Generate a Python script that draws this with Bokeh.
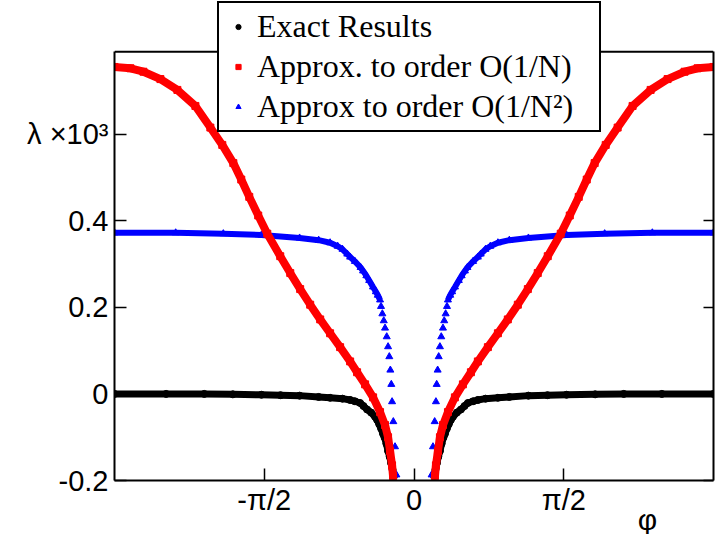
import math
from bokeh.plotting import figure
from bokeh.models import (FixedTicker, LinearAxis, Legend, LegendItem, Range1d, Span)
from bokeh.embed import file_html
from bokeh.resources import INLINE

PI = math.pi

# Values for phi > 0; the curves are mirror-symmetric in phi.
phi_exact = [0.21, 0.225, 0.24, 0.255, 0.272, 0.29, 0.31, 0.325, 0.345, 0.365,
             0.387, 0.408, 0.45, 0.492, 0.53, 0.565, 0.62, 0.67, 0.75, 0.88,
             1.0, 1.2, 1.4, 1.6, 1.9, 2.2, 2.6, 3.1416]
lam_exact = [-0.19, -0.175, -0.16, -0.145, -0.132, -0.115, -0.1, -0.092, -0.08, -0.07,
             -0.06, -0.053, -0.043, -0.036, -0.028, -0.021, -0.017, -0.014, -0.011, -0.009,
             -0.007, -0.004, -0.003, -0.002, -0.001, 0.0, 0.0, 0.0]

phi_o1 = [0.22, 0.23, 0.251, 0.272, 0.304, 0.356, 0.429, 0.513, 0.597, 0.67,
          0.775, 0.88, 0.984, 1.089, 1.194, 1.298, 1.403, 1.539, 1.634, 1.728,
          1.812, 1.895, 2.011, 2.136, 2.293, 2.482, 2.66, 2.838, 2.974, 3.1416]
lam_o1 = [-0.19, -0.165, -0.132, -0.1, -0.072, -0.042, -0.008, 0.022, 0.05, 0.075,
          0.108, 0.14, 0.172, 0.206, 0.242, 0.279, 0.318, 0.37, 0.412, 0.455,
          0.495, 0.533, 0.575, 0.615, 0.665, 0.702, 0.727, 0.744, 0.752, 0.755]

phi_o2 = [0.185, 0.199, 0.217, 0.23, 0.238, 0.248, 0.259, 0.272, 0.286, 0.304,
          0.317, 0.332, 0.346, 0.356, 0.38, 0.40, 0.43, 0.47, 0.50, 0.534,
          0.56, 0.62, 0.67, 0.70, 0.75, 0.80, 0.88, 1.0, 1.2, 1.6,
          2.0, 2.5, 3.1416]
lam_o2 = [-0.187, -0.122, -0.064, -0.018, 0.022, 0.055, 0.086, 0.109, 0.132, 0.152,
          0.169, 0.185, 0.202, 0.217, 0.228, 0.236, 0.247, 0.262, 0.273, 0.284,
          0.292, 0.306, 0.316, 0.323, 0.334, 0.341, 0.349, 0.355, 0.36, 0.367,
          0.37, 0.372, 0.372]

x_ticks = [-PI / 2, 0, PI / 2]
x_tick_labels = ["-π/2", "0", "π/2"]
y_ticks = [-0.2, 0, 0.2, 0.4, 0.6]
y_tick_labels = ["-0.2", "0", "0.2", "0.4", "λ ×10³"]
y_top = 0.79
x_title = "φ"
x_title_pos = 2.45

legend_labels = ["Exact Results", "Approx. to order O(1/N)", "Approx to order O(1/N²)"]


def both_sides(phis, vals):
    xs = [-p for p in reversed(phis)] + list(phis)
    ys = list(reversed(vals)) + list(vals)
    return xs, ys


def line_both_sides(phis, vals):
    xs = [-p for p in reversed(phis)] + [float("nan")] + list(phis)
    ys = list(reversed(vals)) + [float("nan")] + list(vals)
    return xs, ys


# frame spans the whole height so the legend can sit above the drawn box top
p = figure(frame_width=599, frame_height=480,
           x_range=Range1d(-PI, PI), y_range=Range1d(-0.2, 0.9085),
           output_backend="svg", toolbar_location=None,
           min_border_left=114, min_border_top=0, min_border_right=4,
           min_border_bottom=54, background_fill_color="white",
           border_fill_color="white")
p.grid.visible = False
p.outline_line_color = None

# small legend markers, hidden under the curves' ends
lg_b = p.scatter([phi_exact[-1]], [lam_exact[-1]], marker="circle", size=5,
                 fill_color="black", line_color="black")
lg_r = p.scatter([phi_o1[-1]], [lam_o1[-1]], marker="square", size=5,
                 fill_color="red", line_color="red")
lg_t = p.scatter([phi_o2[-1]], [lam_o2[-1]], marker="triangle", size=6,
                 fill_color="blue", line_color="blue")

# exact (black)
xs, ys = line_both_sides(phi_exact, lam_exact)
p.line(xs, ys, line_color="black", line_width=7)
xs, ys = both_sides(phi_exact, lam_exact)
p.scatter(xs, ys, marker="circle", size=7, fill_color="black", line_color="black")

# O(1/N^2) (blue): line only through the dense part
dense = [(a, b) for a, b in zip(phi_o2, lam_o2) if a >= 0.356]
xs, ys = line_both_sides([a for a, _ in dense], [b for _, b in dense])
p.line(xs, ys, line_color="blue", line_width=6)
xs, ys = both_sides(phi_o2, lam_o2)
p.scatter(xs, ys, marker="triangle", size=7, fill_color="blue", line_color="blue")

# O(1/N) (red)
xs, ys = line_both_sides(phi_o1, lam_o1)
p.line(xs, ys, line_color="red", line_width=8)
xs, ys = both_sides(phi_o1, lam_o1)
p.scatter(xs, ys, marker="square", size=7, fill_color="red", line_color="red")

# top edge of the box
p.add_layout(Span(location=y_top, dimension="width", line_color="black", line_width=2))

# axes
xa = p.xaxis[0]
ya = p.yaxis[0]
for ax, ticks, labels in ((xa, x_ticks, x_tick_labels), (ya, y_ticks, y_tick_labels)):
    ax.ticker = FixedTicker(ticks=ticks)
    ax.major_label_overrides = {t: l for t, l in zip(ticks, labels)}
    ax.major_tick_in = 12
    ax.major_tick_out = 0
    ax.major_tick_line_width = 1.5
    ax.minor_tick_line_color = None
    ax.axis_line_color = "black"
    ax.axis_line_width = 2
    ax.major_label_text_font = "Liberation Sans"
    ax.major_label_text_font_size = "29px"
    ax.major_label_text_color = "black"
xa.major_label_standoff = 3
ya.major_label_standoff = 6
ya.bounds = (-0.2, y_top)

right = LinearAxis(ticker=FixedTicker(ticks=y_ticks), bounds=(-0.2, y_top),
                   major_tick_in=10, major_tick_out=0, major_tick_line_width=1.5,
                   minor_tick_line_color=None, axis_line_color="black",
                   axis_line_width=2, major_label_standoff=0,
                   major_label_overrides={t: "" for t in y_ticks})
p.add_layout(right, "right")

# x title as a second, tick-less axis below
xt = LinearAxis(ticker=FixedTicker(ticks=[x_title_pos]),
                major_label_overrides={x_title_pos: x_title},
                major_tick_in=0, major_tick_out=0, minor_tick_line_color=None,
                axis_line_color=None, major_label_standoff=-16,
                major_label_text_font="Liberation Sans",
                major_label_text_font_size="30px", major_label_text_color="black")
p.add_layout(xt, "below")

legend = Legend(items=[LegendItem(label=legend_labels[0], renderers=[lg_b]),
                       LegendItem(label=legend_labels[1], renderers=[lg_r]),
                       LegendItem(label=legend_labels[2], renderers=[lg_t])],
                location=(103, 348), margin=0, padding=5, spacing=3,
                label_height=36, glyph_height=13, glyph_width=28,
                label_standoff=5, label_width=337,
                label_text_font="Liberation Serif", label_text_font_size="32px",
                label_text_color="black",
                border_line_color="black", border_line_width=2, border_line_alpha=1.0,
                background_fill_color="white", background_fill_alpha=1.0)
p.add_layout(legend)

open("out.html", "w").write(file_html(p, INLINE))
